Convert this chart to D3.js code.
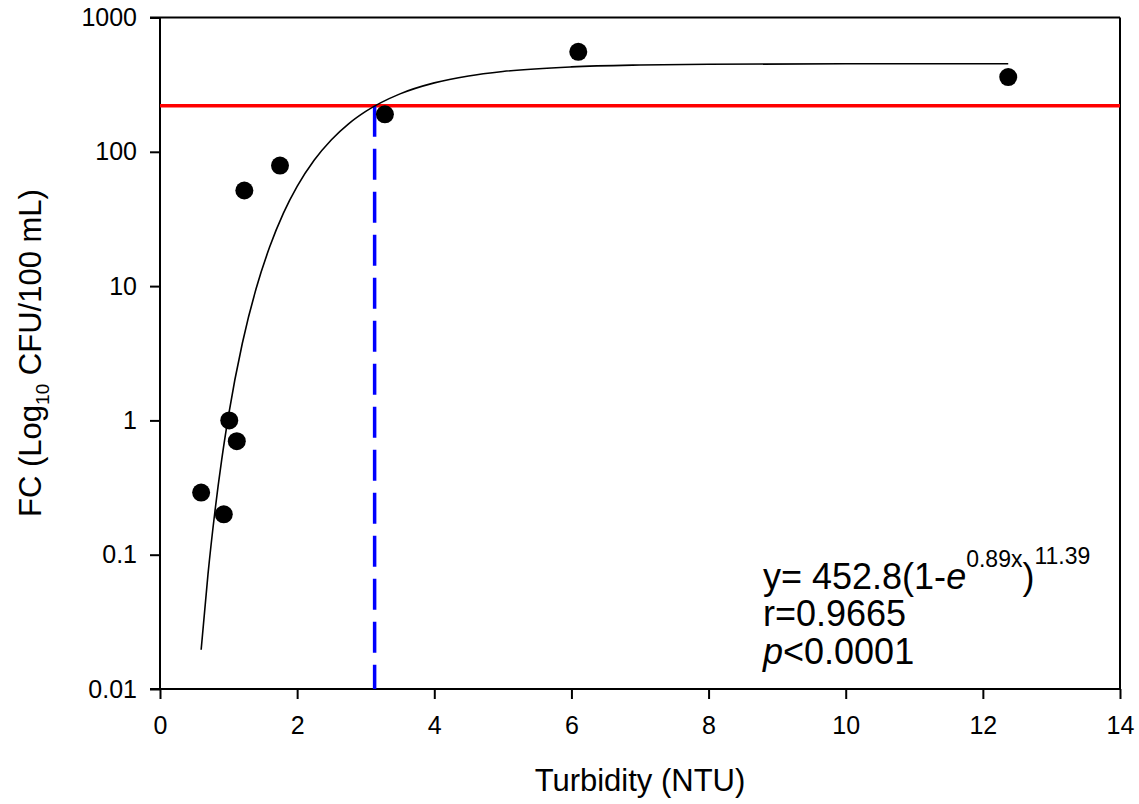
<!DOCTYPE html>
<html>
<head>
<meta charset="utf-8">
<script src="https://cdn.jsdelivr.net/npm/d3@7"></script>
<style>
  body { margin: 0; background: #fff; }
  svg { display: block; font-family: "Liberation Sans", Arial, sans-serif; }
</style>
</head>
<body>
<svg id="chart" width="1139" height="804"></svg>
<script>
// Observed data points (Turbidity NTU, FC CFU/100 mL)
const turbidity = [0.60, 0.93, 1.01, 1.12, 1.23, 1.75, 3.28, 6.10, 12.37];
const fc        = [0.29, 0.20, 1.00, 0.70, 51.5, 79, 190, 555, 360];

// Fitted curve samples
const fitX = [0.6, 0.7, 0.8, 0.9, 1.0, 1.2, 1.4, 1.6, 1.8, 2.0, 2.25, 2.5, 2.75, 3.0, 3.5, 4.0, 4.5, 5.0, 6.0, 7.0, 8.0, 10.0, 12.37];
const fitY = [0.0196, 0.0716, 0.208, 0.511, 1.096, 3.74, 9.51, 19.6, 34.9, 55.2, 86.8, 123.0, 161.6, 199.8, 270.0, 326.0, 367.2, 396.1, 428.7, 442.7, 448.6, 452.1, 452.7];

// Reference lines
const thresholdFC = 220;
const thresholdTurbidity = 3.13;

// Axis ticks
const xTicks = [0, 2, 4, 6, 8, 10, 12, 14];
const yTicks = [0.01, 0.1, 1, 10, 100, 1000];
const yTickLabels = ["0.01", "0.1", "1", "10", "100", "1000"];

const svg = d3.select("#chart");
const mLeft = 160, mRight = 1120, mTop = 17.5, mBottom = 689;

const x = d3.scaleLinear().domain([0, 14]).range([mLeft, mRight]);
const y = d3.scaleLog().domain([0.01, 1000]).range([mBottom, mTop]);

// Frame (top and right borders)
svg.append("line").attr("x1", mLeft - 10).attr("x2", mRight).attr("y1", mTop).attr("y2", mTop)
  .attr("stroke", "#000").attr("stroke-width", 2);
svg.append("line").attr("x1", mRight).attr("x2", mRight).attr("y1", mTop).attr("y2", mBottom)
  .attr("stroke", "#000").attr("stroke-width", 2);

// Axes
const xAxis = d3.axisBottom(x).tickValues(xTicks).tickSize(10).tickPadding(17).tickFormat(d3.format("d"));
const gx = svg.append("g").attr("transform", `translate(0,${mBottom})`).call(xAxis);
const yAxis = d3.axisLeft(y).tickValues(yTicks).tickSize(10).tickPadding(13)
  .tickFormat((d, i) => yTickLabels[i]);
const gy = svg.append("g").attr("transform", `translate(${mLeft},0)`).call(yAxis);

[gx, gy].forEach(g => {
  g.select(".domain").attr("stroke", "#000").attr("stroke-width", 2);
  g.selectAll(".tick line").attr("stroke", "#000").attr("stroke-width", 2);
  g.selectAll(".tick text").attr("fill", "#000").style("font-size", "25px")
    .style("font-family", "'Liberation Sans', Arial, sans-serif");
});
gy.select(".domain").attr("d", `M0,${mBottom}V${mTop}`);
gx.select(".domain").attr("d", `M${mLeft - 10},0H${mRight}`);

// Red threshold line
svg.append("line")
  .attr("x1", x(0)).attr("x2", x(14))
  .attr("y1", y(thresholdFC)).attr("y2", y(thresholdFC))
  .attr("stroke", "#ff0000").attr("stroke-width", 3.5);

// Blue dashed vertical line
svg.append("line")
  .attr("x1", x(thresholdTurbidity)).attr("x2", x(thresholdTurbidity))
  .attr("y1", y(thresholdFC)).attr("y2", y(0.01))
  .attr("stroke", "#0000ff").attr("stroke-width", 3.5)
  .attr("stroke-dasharray", "31,12");

// Fit curve
const fitData = fitX.map((d, i) => [d, fitY[i]]);
svg.append("path")
  .datum(fitData)
  .attr("fill", "none")
  .attr("stroke", "#000")
  .attr("stroke-width", 1.6)
  .attr("d", d3.line().x(d => x(d[0])).y(d => y(d[1])).curve(d3.curveMonotoneX));

// Points
svg.append("g").selectAll("circle")
  .data(turbidity.map((d, i) => [d, fc[i]]))
  .join("circle")
  .attr("cx", d => x(d[0]))
  .attr("cy", d => y(d[1]))
  .attr("r", 9)
  .attr("fill", "#000");

// Axis titles
svg.append("text")
  .attr("x", 640).attr("y", 791)
  .attr("text-anchor", "middle")
  .style("font-size", "31px")
  .text("Turbidity (NTU)");

const yt = svg.append("text")
  .attr("transform", `translate(41,353) rotate(-90)`)
  .attr("text-anchor", "middle")
  .style("font-size", "31px");
yt.append("tspan").text("FC (Log");
yt.append("tspan").attr("dy", 8).style("font-size", "19px").text("10");
yt.append("tspan").attr("dy", -8).text(" CFU/100 mL)");

// Equation annotation
const eq = svg.append("text").attr("x", 763).attr("y", 589).style("font-size", "36px");
eq.append("tspan").text("y= 452.8(1-");
eq.append("tspan").style("font-style", "italic").text("e");
eq.append("tspan").attr("dy", -22).style("font-size", "23px").text("0.89x");
eq.append("tspan").attr("dy", 22).text(")");
eq.append("tspan").attr("dy", -25).style("font-size", "23px").text("11.39");

svg.append("text").attr("x", 763).attr("y", 626).style("font-size", "36px").text("r=0.9665");
const pt = svg.append("text").attr("x", 763).attr("y", 664).style("font-size", "36px");
pt.append("tspan").style("font-style", "italic").text("p");
pt.append("tspan").text("<0.0001");
</script>
</body>
</html>
